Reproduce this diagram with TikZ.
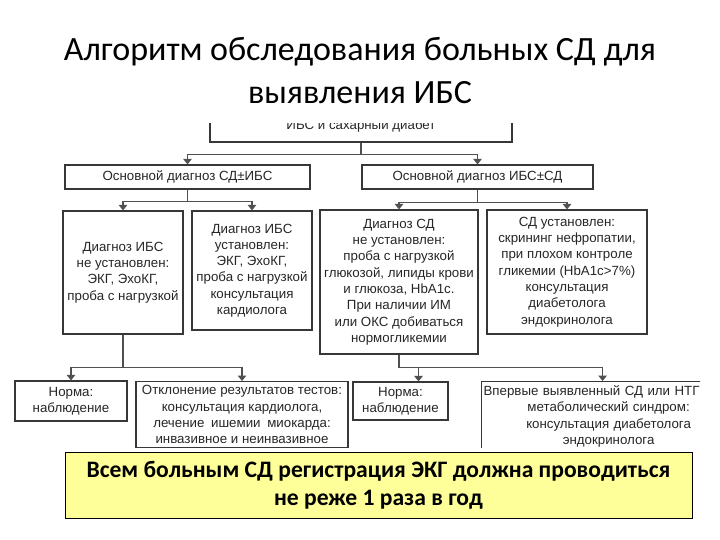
\documentclass[tikz,border=0pt]{standalone}
\usepackage{fontspec}
\setmainfont{Carlito}
\newfontfamily\chartfont{Liberation Sans}
\usetikzlibrary{arrows.meta,positioning}
\definecolor{PaleYellow}{RGB}{255,255,153}
\definecolor{BoxGray}{RGB}{55,55,55}
\definecolor{LineGray}{RGB}{80,80,80}

\begin{document}
\begin{tikzpicture}[x=1pt, y=-1pt,
  box/.style={draw=BoxGray, line width=1.2pt, inner sep=3pt, align=center,
    font=\chartfont\fontsize{13.3}{16.3}\selectfont, text=black!85},
  arr/.style={draw=LineGray, line width=1.3pt, -{Triangle[width=8.5pt,length=5.5pt]}}]
\useasboundingbox (0,0) rectangle (720,540);
\node[font=\fontsize{34}{43}\selectfont, align=center] (title) at (360,71)
  {Алгоритм обследования больных СД для\\выявления ИБС};
\begin{scope}
  \clip (14,124) rectangle (700,447);
  \node[box, minimum width=302, minimum height=32] (top) at (361,126) {ИБС и сахарный диабет};
  \node[box, minimum width=245, minimum height=24] (dxL) at (187.5,177) {Основной диагноз СД±ИБС};
  \node[box, minimum width=231, minimum height=24] (dxR) at (477.5,177) {Основной диагноз ИБС±СД};
  \node[box, minimum width=120, minimum height=123] (B1) at (123,272.5)
    {Диагноз ИБС\\не установлен:\\ЭКГ, ЭхоКГ,\\проба с нагрузкой};
  \node[box, minimum width=120, minimum height=119] (B2) at (252,270.5)
    {Диагноз ИБС\\установлен:\\ЭКГ, ЭхоКГ,\\проба с нагрузкой\\консультация\\кардиолога};
  \node[box, minimum width=158, minimum height=144] (B3) at (399,282)
    {Диагноз СД\\не установлен:\\проба с нагрузкой\\глюкозой, липиды крови\\и глюкоза, HbA1c.\\При наличии ИМ\\или ОКС добиваться\\нормогликемии};
  \node[box, minimum width=160, minimum height=124] (B4) at (567,272)
    {СД установлен:\\скрининг нефропатии,\\при плохом контроле\\гликемии (HbA1c>7\%)\\консультация\\диабетолога\\эндокринолога};
  \node[box, minimum width=112, minimum height=40] (NA) at (71,401) {Норма:\\наблюдение};
  \node[box, minimum width=212, anchor=north, inner ysep=4pt] (NB) at (242,381)
    {Отклонение результатов тестов:\\консультация кардиолога,\\лечение\enspace ишемии\enspace миокарда:\\инвазивное и неинвазивное};
  \node[box, minimum width=95, minimum height=38] (NC) at (400.5,401) {Норма:\\наблюдение};
  \node[box, text width=250, anchor=north west, inner xsep=2pt, inner ysep=4pt] (ND) at (481,381)
    {\makebox[250pt][l]{Впервые выявленный СД или НТГ}\\метаболический синдром:\\консультация диабетолога\\эндокринолога};
  \draw[arr] (top.south) -- ++(0,12) -| (dxL.north);
  \draw[arr] (top.south) -- ++(0,12) -| (dxR.north);
  \draw[arr] (dxL.south) -- ++(0,12) -| (B1.north);
  \draw[arr] (dxL.south) -- ++(0,12) -| (B2.north);
  \draw[arr] (dxR.south) -- ++(0,13) -| (B3.north);
  \draw[arr] (dxR.south) -- ++(0,13) -| (B4.north);
  \draw[arr] (B1.south) -- ++(0,33) -| (NA.north);
  \draw[arr] (B1.south) -- ++(0,33) -| (NB.north);
  \draw[arr] (B3.south) -- ++(0,13) -| ([xshift=18pt]NC.north);
  \draw[arr] (B3.south) -- ++(0,13) -| ([xshift=-6pt]ND.north);
\end{scope}
\node[draw=black, line width=0.8pt, fill=PaleYellow, minimum width=627, minimum height=66,
  align=center, font=\bfseries\fontsize{23.6}{28}\selectfont] (note) at (378.5,485)
  {Всем больным СД регистрация ЭКГ должна проводиться\\не реже 1 раза в год};
\end{tikzpicture}
\end{document}
